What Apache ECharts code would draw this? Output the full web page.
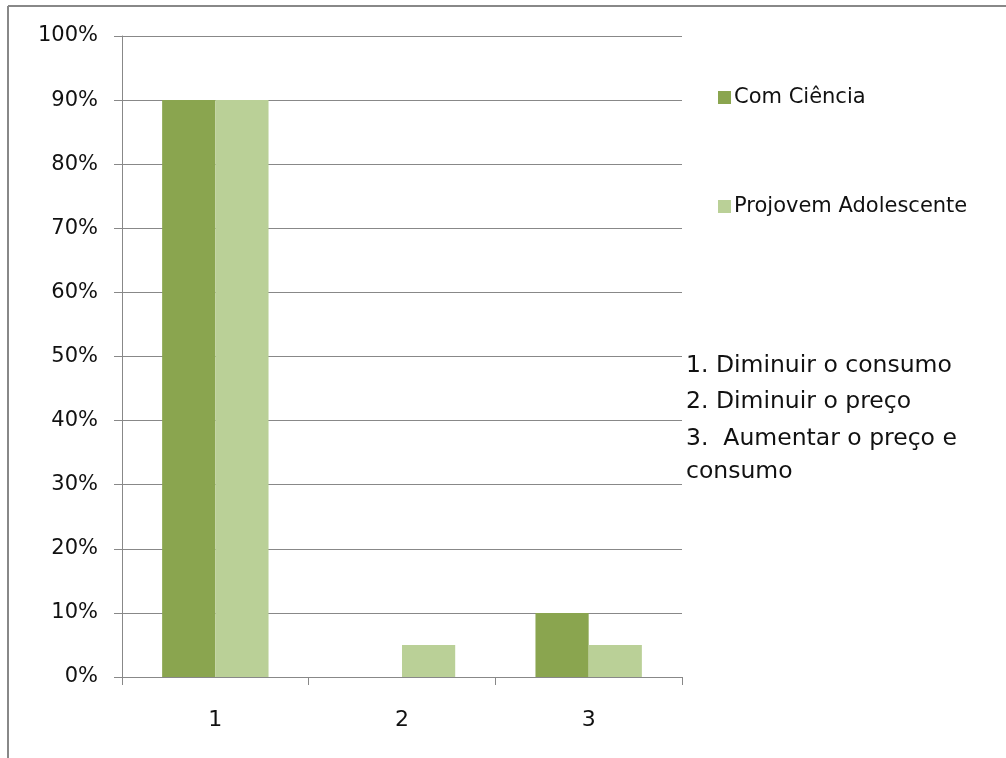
<!DOCTYPE html>
<html>
<head>
<meta charset="utf-8">
<script src="https://cdn.jsdelivr.net/npm/echarts@6/dist/echarts.min.js"></script>
<style>
  html, body { margin: 0; padding: 0; background: #fff; }
  #chart { width: 1006px; height: 758px; }
</style>
</head>
<body>
<div id="chart"></div>
<script>
// Categories on the x axis
const categories = ['1', '2', '3'];
// Share of answers per group (percent)
const comCiencia = [90, 0, 10];
const projovem = [90, 5, 5];
const seriesNames = ['Com Ciência', 'Projovem Adolescente'];
// Meaning of each category number
const notes = ['1. Diminuir o consumo', '2. Diminuir o preço', '3.  Aumentar o preço e', 'consumo'];
const noteTops = [354, 390, 427, 460];

const FONT = '"DejaVu Sans", sans-serif';
const chart = echarts.init(document.getElementById('chart'), null, { renderer: 'canvas' });

const noteElements = notes.map((t, i) => ({
  type: 'text',
  left: 686,
  top: noteTops[i],
  style: { text: t, font: '23.5px ' + FONT, fill: '#111' }
}));

// Frame: only the top and left edges fall inside the page
const frame = [
  { type: 'line', shape: { x1: 8, y1: 6, x2: 1006, y2: 6 }, style: { stroke: '#888', lineWidth: 2 }, z: -1 },
  { type: 'line', shape: { x1: 8, y1: 6, x2: 8, y2: 758 }, style: { stroke: '#888', lineWidth: 2 }, z: -1 }
];

chart.setOption({
  animation: false,
  backgroundColor: '#fff',
  grid: { left: 122, top: 36, width: 560, height: 641, containLabel: false },
  legend: {
    orient: 'vertical',
    left: 713,
    top: 82,
    itemWidth: 13,
    itemHeight: 13,
    itemGap: 88,
    icon: 'rect',
    textStyle: { fontFamily: FONT, fontSize: 21, color: '#111', padding: [0, 0, 0, -2] },
    data: seriesNames
  },
  xAxis: {
    type: 'category',
    data: categories,
    axisLine: { lineStyle: { color: '#888', width: 1 } },
    axisTick: { show: true, length: 8, lineStyle: { color: '#888' } },
    axisLabel: { fontFamily: FONT, fontSize: 22, color: '#111', margin: 32 }
  },
  yAxis: {
    type: 'value',
    min: 0,
    max: 100,
    interval: 10,
    axisLine: { show: true, lineStyle: { color: '#888', width: 1 } },
    axisTick: { show: true, length: 8, lineStyle: { color: '#888' } },
    splitLine: { lineStyle: { color: '#888', width: 1 } },
    axisLabel: {
      fontFamily: FONT, fontSize: 21, color: '#111', margin: 24,
      formatter: '{value}%', padding: [3, 0, 0, 0]
    }
  },
  series: [
    {
      name: seriesNames[0], type: 'bar', data: comCiencia,
      barGap: '0%', barCategoryGap: '43%',
      itemStyle: { color: '#8aa54f' }
    },
    {
      name: seriesNames[1], type: 'bar', data: projovem,
      itemStyle: { color: '#bad097' }
    }
  ],
  graphic: frame.concat(noteElements)
});
</script>
</body>
</html>
